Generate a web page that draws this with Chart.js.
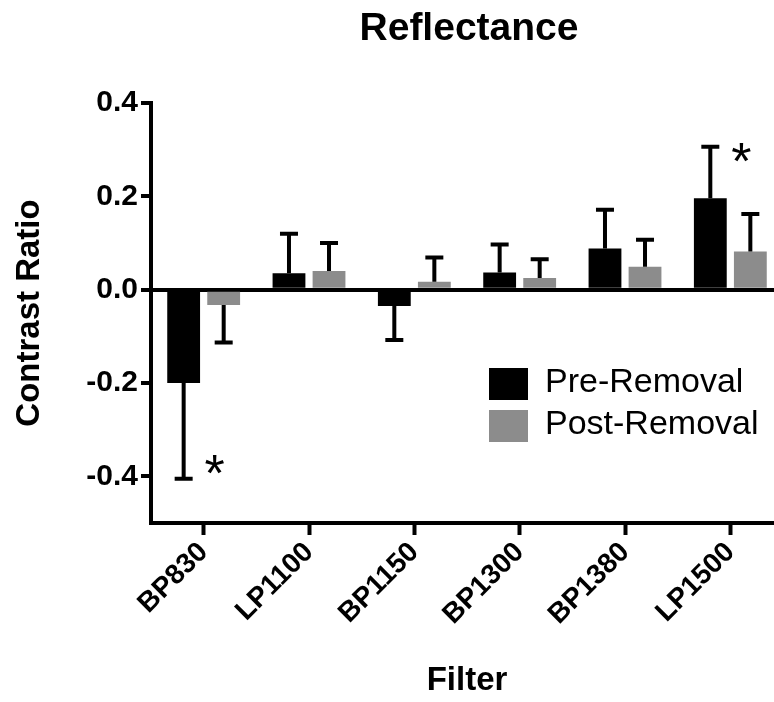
<!DOCTYPE html>
<html lang="en">
<head>
    <meta charset="UTF-8">
    <title>Reflectance</title>
    <script src="https://cdn.jsdelivr.net/npm/chart.js"></script>
    <style>
        body {
            margin: 0;
            padding: 0;
            background: #fff;
            overflow: hidden;
        }
        .wrap {
            width: 800px;
            height: 702px;
        }
    </style>
</head>
<body>
    <div class="wrap">
        <canvas id="chart" width="800" height="702"></canvas>
    </div>

    <script>
        // Data
        const filters = ['BP830', 'LP1100', 'BP1150', 'BP1300', 'BP1380', 'LP1500'];
        const preRemoval = [-0.20, 0.035, -0.035, 0.037, 0.088, 0.196];
        const preError = [0.205, 0.085, 0.073, 0.06, 0.083, 0.11];
        const postRemoval = [-0.033, 0.04, 0.017, 0.025, 0.049, 0.082];
        const postError = [0.08, 0.06, 0.052, 0.04, 0.058, 0.08];
        const significance = ['*', '', '', '', '', '*'];
        const yTicks = [-0.4, -0.2, 0.0, 0.2, 0.4];

        const FONT = "'Liberation Sans', Arial, Helvetica, sans-serif";

        // error bars (one sided, away from zero) + significance stars
        const errorBars = {
            id: 'errorBars',
            afterDatasetsDraw(chart) {
                const ctx = chart.ctx;
                const y = chart.scales.y;
                const errs = [preError, postError];
                ctx.save();
                ctx.strokeStyle = '#000';
                ctx.lineWidth = 4;
                chart.data.datasets.forEach((ds, i) => {
                    const meta = chart.getDatasetMeta(i);
                    meta.data.forEach((bar, j) => {
                        const v = ds.data[j];
                        const end = v + (v < 0 ? -1 : 1) * errs[i][j];
                        const yEnd = y.getPixelForValue(end);
                        ctx.beginPath();
                        ctx.moveTo(bar.x, bar.y);
                        ctx.lineTo(bar.x, yEnd);
                        ctx.moveTo(bar.x - 9, yEnd);
                        ctx.lineTo(bar.x + 9, yEnd);
                        ctx.stroke();

                        if (i === 0 && significance[j]) {
                            ctx.fillStyle = '#000';
                            ctx.font = '52px ' + FONT;
                            ctx.textAlign = 'center';
                            ctx.textBaseline = 'alphabetic';
                            const cy = v < 0 ? yEnd - 18 : yEnd + 2;
                            ctx.fillText(significance[j], bar.x + 31, cy + 30);
                        }
                    });
                });
                ctx.restore();
            }
        };

        // title over the plot area, legend inside it
        const decorations = {
            id: 'decorations',
            afterDraw(chart) {
                const ctx = chart.ctx;
                const area = chart.chartArea;
                ctx.save();
                ctx.fillStyle = '#000';
                ctx.font = 'bold 39px ' + FONT;
                ctx.textAlign = 'center';
                ctx.textBaseline = 'middle';
                ctx.fillText('Reflectance', (area.left + area.right) / 2 + 2, 29);

                ctx.font = '34px ' + FONT;
                ctx.textAlign = 'left';
                chart.data.datasets.forEach((ds, i) => {
                    const top = 368 + i * 42;
                    ctx.fillStyle = ds.backgroundColor;
                    ctx.fillRect(489, top, 39, 32);
                    ctx.fillStyle = '#000';
                    ctx.fillText(ds.label, 545, top + 15);
                });
                ctx.restore();
            }
        };

        new Chart(document.getElementById('chart'), {
            type: 'bar',
            data: {
                labels: filters,
                datasets: [{
                    label: 'Pre-Removal',
                    data: preRemoval,
                    backgroundColor: '#000000',
                    categoryPercentage: 0.76,
                    barPercentage: 0.82
                }, {
                    label: 'Post-Removal',
                    data: postRemoval,
                    backgroundColor: '#8c8c8c',
                    categoryPercentage: 0.76,
                    barPercentage: 0.82
                }]
            },
            plugins: [errorBars, decorations],
            options: {
                responsive: false,
                animation: false,
                layout: {
                    padding: { top: 103, right: 17, bottom: 0, left: 0 }
                },
                plugins: {
                    legend: { display: false },
                    tooltip: { enabled: false },
                    title: { display: false }
                },
                scales: {
                    x: {
                        afterFit(scale) { scale.height = 179; },
                        border: { display: true, color: '#000', width: 4 },
                        grid: {
                            display: true,
                            drawOnChartArea: false,
                            offset: false,
                            tickLength: 12,
                            tickWidth: 4,
                            tickColor: '#000'
                        },
                        ticks: {
                            color: '#000',
                            font: { family: FONT, size: 28, weight: 'bold' },
                            minRotation: 45,
                            maxRotation: 45,
                            padding: 1
                        },
                        title: {
                            display: true,
                            text: 'Filter',
                            color: '#000',
                            font: { family: FONT, size: 33, weight: 'bold' },
                            padding: { top: 0, bottom: 1 }
                        }
                    },
                    y: {
                        min: -0.5,
                        max: 0.4,
                        afterFit(scale) { scale.width = 151; },
                        afterBuildTicks(scale) {
                            scale.ticks = yTicks.map(v => ({ value: v }));
                        },
                        border: { display: true, color: '#000', width: 4 },
                        grid: {
                            color: c => (c.tick && c.tick.value === 0) ? '#000' : 'rgba(0,0,0,0)',
                            lineWidth: 4,
                            tickLength: 10,
                            tickWidth: 4,
                            tickColor: '#000'
                        },
                        ticks: {
                            color: '#000',
                            font: { family: FONT, size: 30, weight: 'bold' },
                            padding: 3,
                            callback: v => v.toFixed(1)
                        },
                        title: {
                            display: true,
                            text: 'Contrast Ratio',
                            color: '#000',
                            font: { family: FONT, size: 33, weight: 'bold' },
                            padding: { top: 10, bottom: 0 }
                        }
                    }
                }
            }
        });
    </script>
</body>
</html>
